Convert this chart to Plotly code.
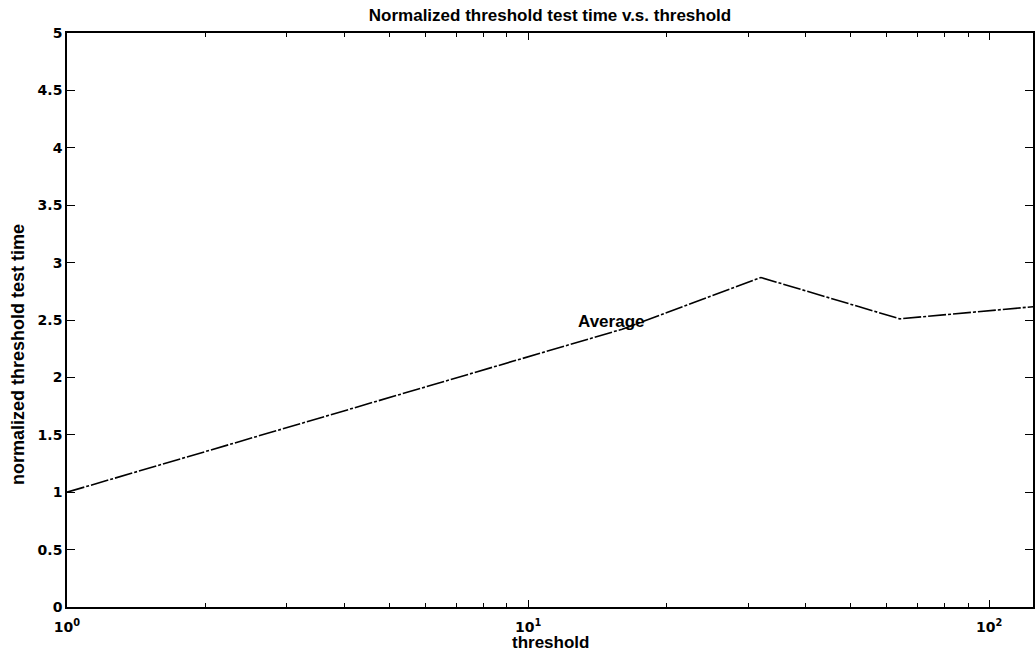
import numpy as np
import plotly.graph_objects as go

# Data
threshold = [1, 2, 4, 8, 16, 32, 64, 128]
avg_time = [1.00, 1.355, 1.71, 2.06, 2.42, 2.87, 2.51, 2.62]

x_tick_vals = [1, 10, 100]
x_tick_text = ["10<sup>0</sup>", "10<sup>1</sup>", "10<sup>2</sup>"]
y_tick_vals = [0, 0.5, 1, 1.5, 2, 2.5, 3, 3.5, 4, 4.5, 5]
y_tick_text = ["0", "0.5", "1", "1.5", "2", "2.5", "3", "3.5", "4", "4.5", "5"]
x_minor_vals = [2, 3, 4, 5, 6, 7, 8, 9, 20, 30, 40, 50, 60, 70, 80, 90]

title_text = "Normalized threshold test time v.s. threshold"
x_title = "threshold"
y_title = "normalized threshold test time"
label_text = "Average"

fig = go.Figure()
fig.add_trace(go.Scatter(
    x=threshold, y=avg_time, mode="lines",
    line=dict(color="black", width=1.6, dash="18px,2px,3px,2px"),
    showlegend=False, hoverinfo="skip",
))

tickfont = dict(family="DejaVu Sans", size=14, color="black", weight="bold")

fig.update_layout(
    width=1035, height=653,
    margin=dict(l=67, r=0, t=33, b=46),
    paper_bgcolor="white", plot_bgcolor="white",
    title=dict(text="<b>" + title_text + "</b>", xref="paper", x=0.5, xanchor="center",
               y=1 - 15 / 653, yanchor="middle", yref="container",
               font=dict(family="Liberation Sans, Arial", size=17, color="black")),
    xaxis=dict(
        type="log", range=[0, np.log10(124.5)],
        tickmode="array", tickvals=x_tick_vals, ticktext=x_tick_text,
        ticks="inside", ticklen=7, tickwidth=1.4, tickcolor="black",
        showline=True, linecolor="black", linewidth=1.6, mirror="ticks",
        showgrid=False, zeroline=False, tickfont=tickfont, ticklabelstandoff=6,
        minor=dict(tickmode="array", tickvals=x_minor_vals, ticks="inside",
                   ticklen=4, tickwidth=1.2, tickcolor="black", showgrid=False),
    ),
    yaxis=dict(
        range=[0, 5], tickmode="array", tickvals=y_tick_vals, ticktext=y_tick_text,
        ticks="inside", ticklen=8, tickwidth=1.4, tickcolor="black",
        showline=True, linecolor="black", linewidth=1.6, mirror="ticks",
        showgrid=False, zeroline=False, tickfont=tickfont,
    ),
    annotations=[
        dict(text="<b>" + x_title + "</b>", xref="paper", yref="paper", x=0.5, y=0,
             xanchor="center", yanchor="middle", yshift=-35, showarrow=False,
             font=dict(family="Liberation Sans, Arial", size=17, color="black")),
        dict(text=y_title, xref="paper", yref="paper", x=(18 - 67) / 968, y=(607 - 355) / 574,
             xanchor="center", yanchor="middle", textangle=-90, showarrow=False,
             font=dict(family="Liberation Sans, Arial", size=18, color="black", weight=600)),
        dict(text="<b>" + label_text + "</b>", xref="x", yref="y", x=np.log10(12.7), y=2.49,
             xanchor="left", yanchor="middle", showarrow=False,
             font=dict(family="Liberation Sans, Arial", size=17, color="black")),
    ],
)

fig.write_html("out.html", config={"displayModeBar": False},
               post_script="document.body.style.margin='0';")
